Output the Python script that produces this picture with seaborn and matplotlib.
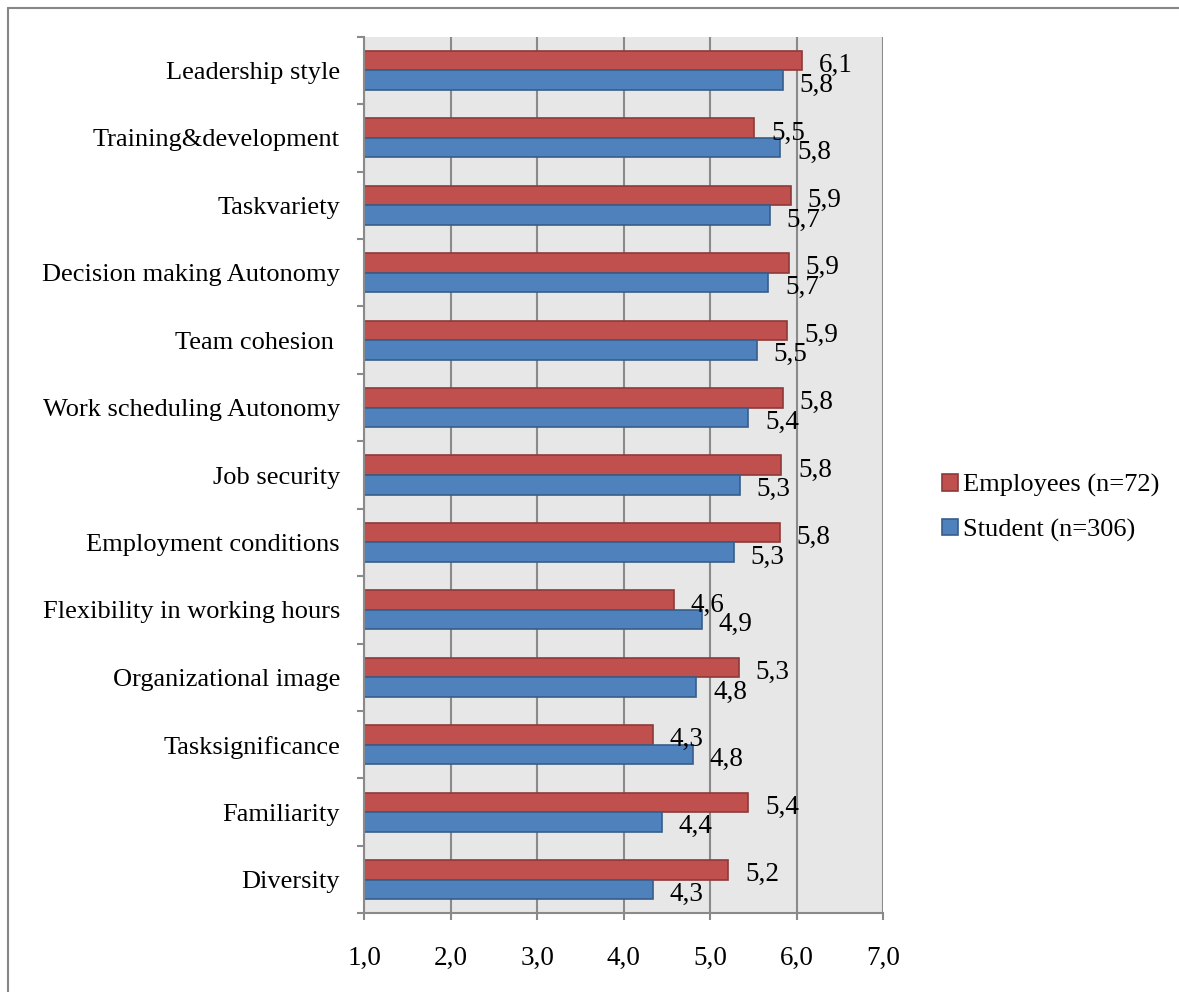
import matplotlib
matplotlib.use("Agg")
import matplotlib.pyplot as plt
from matplotlib.lines import Line2D
from matplotlib.ticker import FixedLocator, MultipleLocator
import pandas as pd
import seaborn as sns

# Job-attribute ratings (1-7 scale), listed top to bottom
categories = [
    "Leadership style",
    "Training&development",
    "Taskvariety",
    "Decision making Autonomy",
    "Team cohesion ",
    "Work scheduling Autonomy",
    "Job security",
    "Employment conditions",
    "Flexibility in working hours",
    "Organizational image",
    "Tasksignificance",
    "Familiarity",
    "Diversity",
]
employees = [6.06, 5.51, 5.93, 5.91, 5.89, 5.84, 5.82, 5.80, 4.58, 5.33, 4.34, 5.44, 5.21]
students = [5.84, 5.81, 5.69, 5.67, 5.54, 5.44, 5.34, 5.27, 4.90, 4.84, 4.80, 4.44, 4.34]
series_names = ["Employees (n=72)", "Student (n=306)"]
x_ticks = [1, 2, 3, 4, 5, 6, 7]

df = pd.DataFrame({
    "category": categories * 2,
    "score": employees + students,
    "group": [series_names[0]] * len(categories) + [series_names[1]] * len(categories),
})

sns.set_theme(style="white")
plt.rcParams["font.family"] = ["Liberation Serif", "DejaVu Serif"]
plt.rcParams["text.color"] = "black"

fill_colors = ["#C0504D", "#4F81BD"]
edge_colors = ["#8E3A38", "#385D8A"]
grid_color = "#8A8A8A"
FS_Y = 19
FS_NUM = 19.5

fig = plt.figure(figsize=(11.79, 9.92), dpi=100)
ax = fig.add_axes([0.309, 0.0793, 0.4402, 0.8837])

sns.barplot(
    data=df, x="score", y="category", hue="group", order=categories,
    hue_order=series_names, palette=fill_colors, orient="h",
    width=0.58, linewidth=1.2, saturation=1, ax=ax, legend=True,
)

# value labels just past each bar end
for cont, ec in zip(ax.containers, edge_colors):
    for bar in cont:
        bar.set_edgecolor(ec)
        w = bar.get_width()
        yc = bar.get_y() + bar.get_height() / 2
        ax.annotate(f"{w:.1f}".replace(".", ","), xy=(w, yc), xytext=(12, -3.5),
                    textcoords="offset points", ha="left", va="center",
                    fontsize=FS_NUM, color="black", annotation_clip=False)

ax.set_facecolor("#E7E7E7")
ax.set_xlim(1, 7)
ax.set_ylim(len(categories) - 0.5, -0.5)
ax.set_xlabel("")
ax.set_ylabel("")

ax.xaxis.set_major_locator(FixedLocator(x_ticks))
ax.set_xticklabels([f"{t:.1f}".replace(".", ",") for t in x_ticks])
ax.grid(axis="x", color=grid_color, linewidth=1.5)
ax.grid(axis="y", visible=False)
ax.set_axisbelow(True)

ax.yaxis.set_minor_locator(MultipleLocator(1, offset=0.5))
ax.tick_params(axis="y", which="major", length=0, pad=17.5, labelsize=FS_Y, colors="black")
ax.tick_params(axis="y", which="minor", length=5, width=1.5, color=grid_color, left=True)
ax.tick_params(axis="x", which="major", length=5, width=1.5, color=grid_color,
               bottom=True, pad=18.5, labelsize=FS_NUM, labelcolor="black")

for side in ["top", "right"]:
    ax.spines[side].set_visible(False)
for side in ["left", "bottom"]:
    ax.spines[side].set_color(grid_color)
    ax.spines[side].set_linewidth(1.5)

handles, lbls = ax.get_legend_handles_labels()
for h, ec in zip(handles, edge_colors):
    h.set_edgecolor(ec)
ax.legend(
    handles, lbls, loc="center left", bbox_to_anchor=(0.79, 0.488),
    bbox_transform=fig.transFigure, frameon=False, fontsize=FS_Y,
    handlelength=0.6, handleheight=0.6, handletextpad=0.2, labelspacing=0.82,
    borderaxespad=0, labelcolor="black",
)

# chart frame
fig.add_artist(Line2D([8 / 1179, 8 / 1179], [0, 1 - 8 / 992],
                      transform=fig.transFigure, color="#868686", linewidth=1.5))
fig.add_artist(Line2D([8 / 1179, 1], [1 - 8 / 992, 1 - 8 / 992],
                      transform=fig.transFigure, color="#868686", linewidth=1.5))

fig.savefig("out.png", dpi=100, facecolor="white")
